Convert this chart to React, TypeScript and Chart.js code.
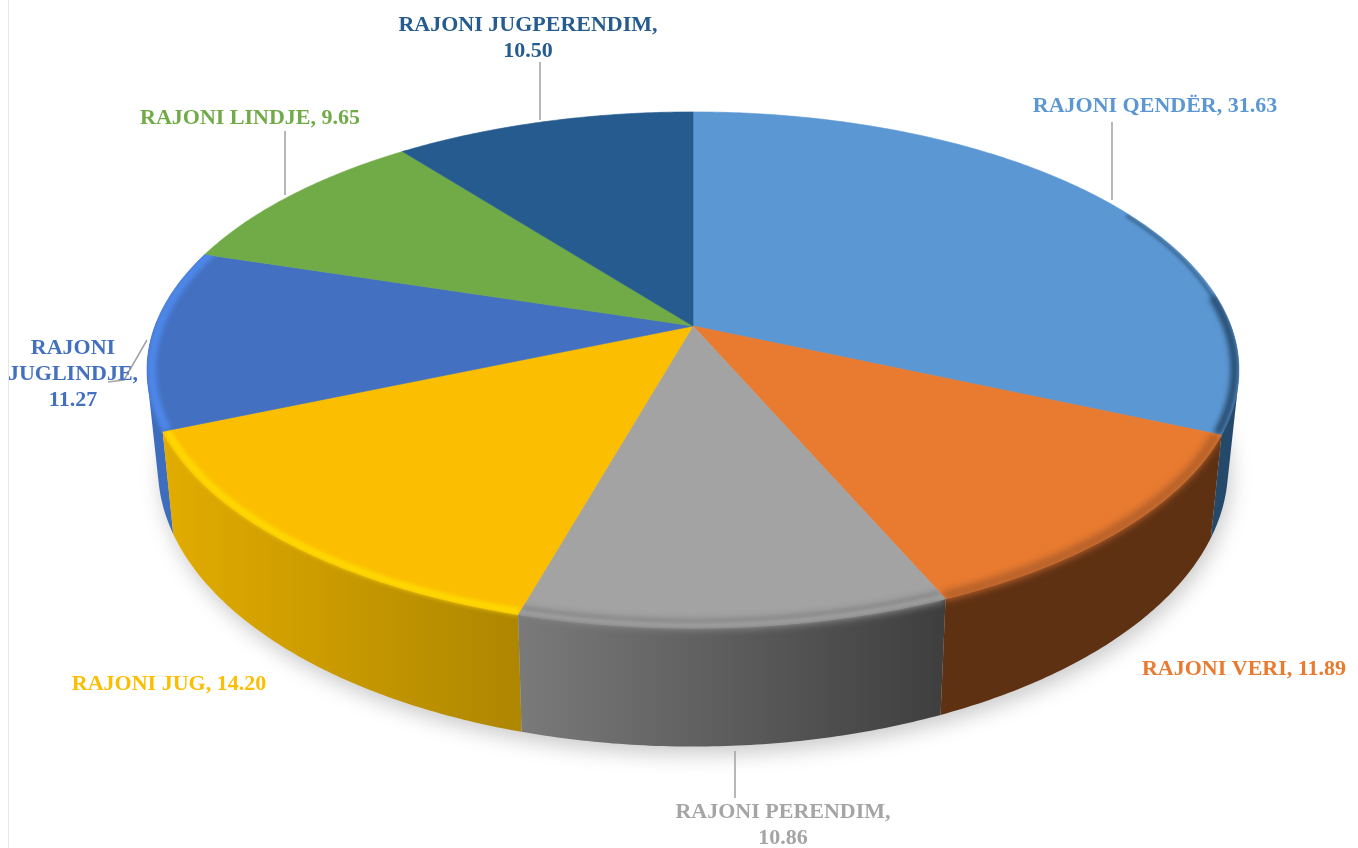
import React, { useEffect, useRef } from "react";
import { Chart, registerables } from "chart.js";

Chart.register(...registerables);

const categories = [
  "RAJONI QENDËR",
  "RAJONI VERI",
  "RAJONI PERENDIM",
  "RAJONI JUG",
  "RAJONI JUGLINDJE",
  "RAJONI LINDJE",
  "RAJONI JUGPERENDIM",
];
const values = [31.63, 11.89, 10.86, 14.2, 11.27, 9.65, 10.5];
const topColors = ["#5B97D3", "#E97B30", "#A3A3A3", "#FBBE00", "#4370C0", "#70AB47", "#255B8E"];

// wall colours (left, right)
const wallColors = [
  ["#25496A", "#25496A"],
  ["#5F3113", "#5F3113"],
  ["#7A7A7A", "#3E3E3E"],
  ["#E2AC00", "#AE8600"],
  ["#3D6DBC", "#3D6DBC"],
  null,
  null,
];
// soft rim bevel passes
const bevels = [
  { slice: 0, start: -0.5, end: -0.1, color: "#3A668E", width: 3, blur: 1.5 },
  { slice: 0, start: -0.12, end: null, color: "#2A4F72", width: 8, blur: 2.5 },
  { slice: 1, start: null, end: null, color: "#B4602A", width: 10, blur: 3.5 },
  { slice: 2, start: null, end: null, color: "#7E7E7E", width: 11, blur: 3.5 },
  { slice: 2, start: null, end: null, color: "#B4B4B4", width: 3, blur: 2 },
  { slice: 3, start: null, end: null, color: "#FFDE00", width: 6, blur: 2.5 },
  { slice: 4, start: null, end: 3.7, color: "#4E88EA", width: 9, blur: 2.5 },
];

const labelFont = 'bold 22px "Liberation Serif"';
const labelLineHeight = 26;
// word counts per line, centre x and first line y for each label
const labelWraps = [[3], [3], [2, 1], [3], [1, 1, 1], [3], [2, 1]];
const labelX = [1155, 1244, 783, 169, 73, 250, 528];
const labelY = [106, 669, 812, 684, 348, 118, 25];
const leaders: ([number, number][] | null)[] = [
  [[1112, 122], [1112, 200]],
  null,
  [[735, 751], [735, 798]],
  null,
  [[147, 340], [124, 380], [108, 382]],
  [[285, 131], [285, 195]],
  [[540, 62], [540, 120]],
];

// perspective of the pie's top disc
const CX = 693;
const CY = 326;
const AX = 538;
const BY = 195;
const P = -0.1705;

type Pt = { x: number; y: number };
const project = (a: number, r = 1): Pt => {
  const dx = r * Math.cos(a);
  const dy = r * Math.sin(a);
  const d = 1 + P * dy;
  return { x: CX + (AX * dx) / d, y: (CY + BY * dy) / d };
};
const lower = (p: Pt): Pt => ({
  x: CX + 0.98 * (p.x - CX),
  y: p.y + 103 + (p.y - 435) * 0.08,
});
const sample = (a0: number, a1: number) => {
  const n = Math.max(2, Math.ceil(Math.abs(a1 - a0) / 0.01));
  const out: number[] = [];
  for (let i = 0; i <= n; i++) out.push(a0 + ((a1 - a0) * i) / n);
  return out;
};
const addQuad = (path: Path2D, q: Pt[]) => {
  let area = 0;
  q.forEach((p, i) => {
    const n = q[(i + 1) % q.length];
    area += p.x * n.y - n.x * p.y;
  });
  const pts = area >= 0 ? q : [...q].reverse();
  pts.forEach((p, i) => (i ? path.lineTo(p.x, p.y) : path.moveTo(p.x, p.y)));
  path.closePath();
};

const piePlugin = {
  id: "perspectivePie",
  beforeDatasetsDraw(chart: any) {
    const ctx: CanvasRenderingContext2D = chart.ctx;
    const arcs = chart.getDatasetMeta(0).data as any[];
    ctx.save();

    // page edge line
    ctx.strokeStyle = "#E6E6E6";
    ctx.lineWidth = 1;
    ctx.beginPath();
    ctx.moveTo(8.5, 0);
    ctx.lineTo(8.5, 848);
    ctx.stroke();

    // drop shadow of the whole disc
    ctx.save();
    ctx.filter = "blur(10px)";
    ctx.fillStyle = "rgba(0,0,0,0.2)";
    ctx.beginPath();
    sample(0, Math.PI * 2).forEach((a, i) => {
      const b = lower(project(a));
      i ? ctx.lineTo(b.x + 3, b.y + 8) : ctx.moveTo(b.x + 3, b.y + 8);
    });
    ctx.closePath();
    ctx.fill();
    ctx.restore();

    const wallPath = (s: number, e: number) => {
      const p = new Path2D();
      const lo = Math.max(s, -0.02);
      const hi = Math.min(e, Math.PI + 0.02);
      if (hi <= lo) return null;
      const ang = sample(lo, hi);
      for (let k = 0; k < ang.length - 1; k++) {
        const q0 = project(ang[k]);
        const q1 = project(ang[k + 1]);
        addQuad(p, [q0, q1, lower(q1), lower(q0)]);
      }
      return p;
    };
    const topPath = (s: number, e: number) => {
      const p = new Path2D();
      p.moveTo(CX, CY);
      sample(s, e).forEach((a) => {
        const q = project(a);
        p.lineTo(q.x, q.y);
      });
      p.closePath();
      return p;
    };

    // walls: outer ones first, front ones after
    [0, 4, 3, 2, 1].forEach((i) => {
      const cols = wallColors[i];
      const { startAngle: s, endAngle: e } = arcs[i];
      const w = wallPath(s, e);
      if (!cols || !w) return;
      const xs = sample(Math.max(s, 0), Math.min(e, Math.PI)).map((a) => project(a).x);
      const g = ctx.createLinearGradient(Math.min(...xs), 0, Math.max(...xs), 0);
      g.addColorStop(0, cols[0]);
      g.addColorStop(1, cols[1]);
      ctx.fillStyle = g;
      ctx.fill(w);
    });

    // top faces
    arcs.forEach((arc) => {
      const t = topPath(arc.startAngle, arc.endAngle);
      ctx.fillStyle = arc.options.backgroundColor;
      ctx.strokeStyle = arc.options.backgroundColor;
      ctx.lineWidth = 0.6;
      ctx.fill(t);
      ctx.stroke(t);
    });

    // soft bevel along the rim
    bevels.forEach((b) => {
      const arc = arcs[b.slice];
      const s = b.start ?? arc.startAngle;
      const e = b.end ?? arc.endAngle;
      const clip = new Path2D();
      clip.addPath(topPath(arc.startAngle, arc.endAngle));
      const w = wallPath(arc.startAngle, arc.endAngle);
      if (w) clip.addPath(w);
      ctx.save();
      ctx.clip(clip);
      ctx.filter = `blur(${b.blur}px)`;
      ctx.strokeStyle = b.color;
      ctx.lineWidth = b.width;
      ctx.beginPath();
      sample(s, e).forEach((a, k) => {
        const q = project(a, 0.992);
        k ? ctx.lineTo(q.x, q.y) : ctx.moveTo(q.x, q.y);
      });
      ctx.stroke();
      ctx.restore();
    });

    // leader lines
    ctx.strokeStyle = "#A6A6A6";
    ctx.lineWidth = 1.6;
    leaders.forEach((pts) => {
      if (!pts) return;
      ctx.beginPath();
      pts.forEach(([x, y], k) => (k ? ctx.lineTo(x, y) : ctx.moveTo(x, y)));
      ctx.stroke();
    });

    // data labels
    ctx.font = labelFont;
    ctx.textAlign = "center";
    ctx.textBaseline = "middle";
    categories.forEach((cat, i) => {
      const words = `${cat}, ${values[i].toFixed(2)}`.split(" ");
      ctx.fillStyle = i === 2 ? "#A5A5A5" : topColors[i];
      let k = 0;
      labelWraps[i].forEach((count, line) => {
        const text = words.slice(k, k + count).join(" ");
        k += count;
        ctx.fillText(text, labelX[i], labelY[i] + line * labelLineHeight);
      });
    });

    ctx.restore();
    return false;
  },
};

export default function App() {
  const ref = useRef<HTMLCanvasElement>(null);
  useEffect(() => {
    const chart = new Chart(ref.current as HTMLCanvasElement, {
      type: "pie",
      data: {
        labels: categories,
        datasets: [{ data: values, backgroundColor: topColors, borderWidth: 0 }],
      },
      options: {
        animation: false,
        responsive: false,
        plugins: { legend: { display: false }, tooltip: { enabled: false }, title: { display: false } },
      },
      plugins: [piePlugin],
    } as any);
    return () => chart.destroy();
  }, []);
  return (
    <div style={{ position: "absolute", left: 0, top: 0, width: 1358, height: 848, background: "#fff" }}>
      <canvas ref={ref} width={1358} height={848} style={{ display: "block" }} />
    </div>
  );
}
